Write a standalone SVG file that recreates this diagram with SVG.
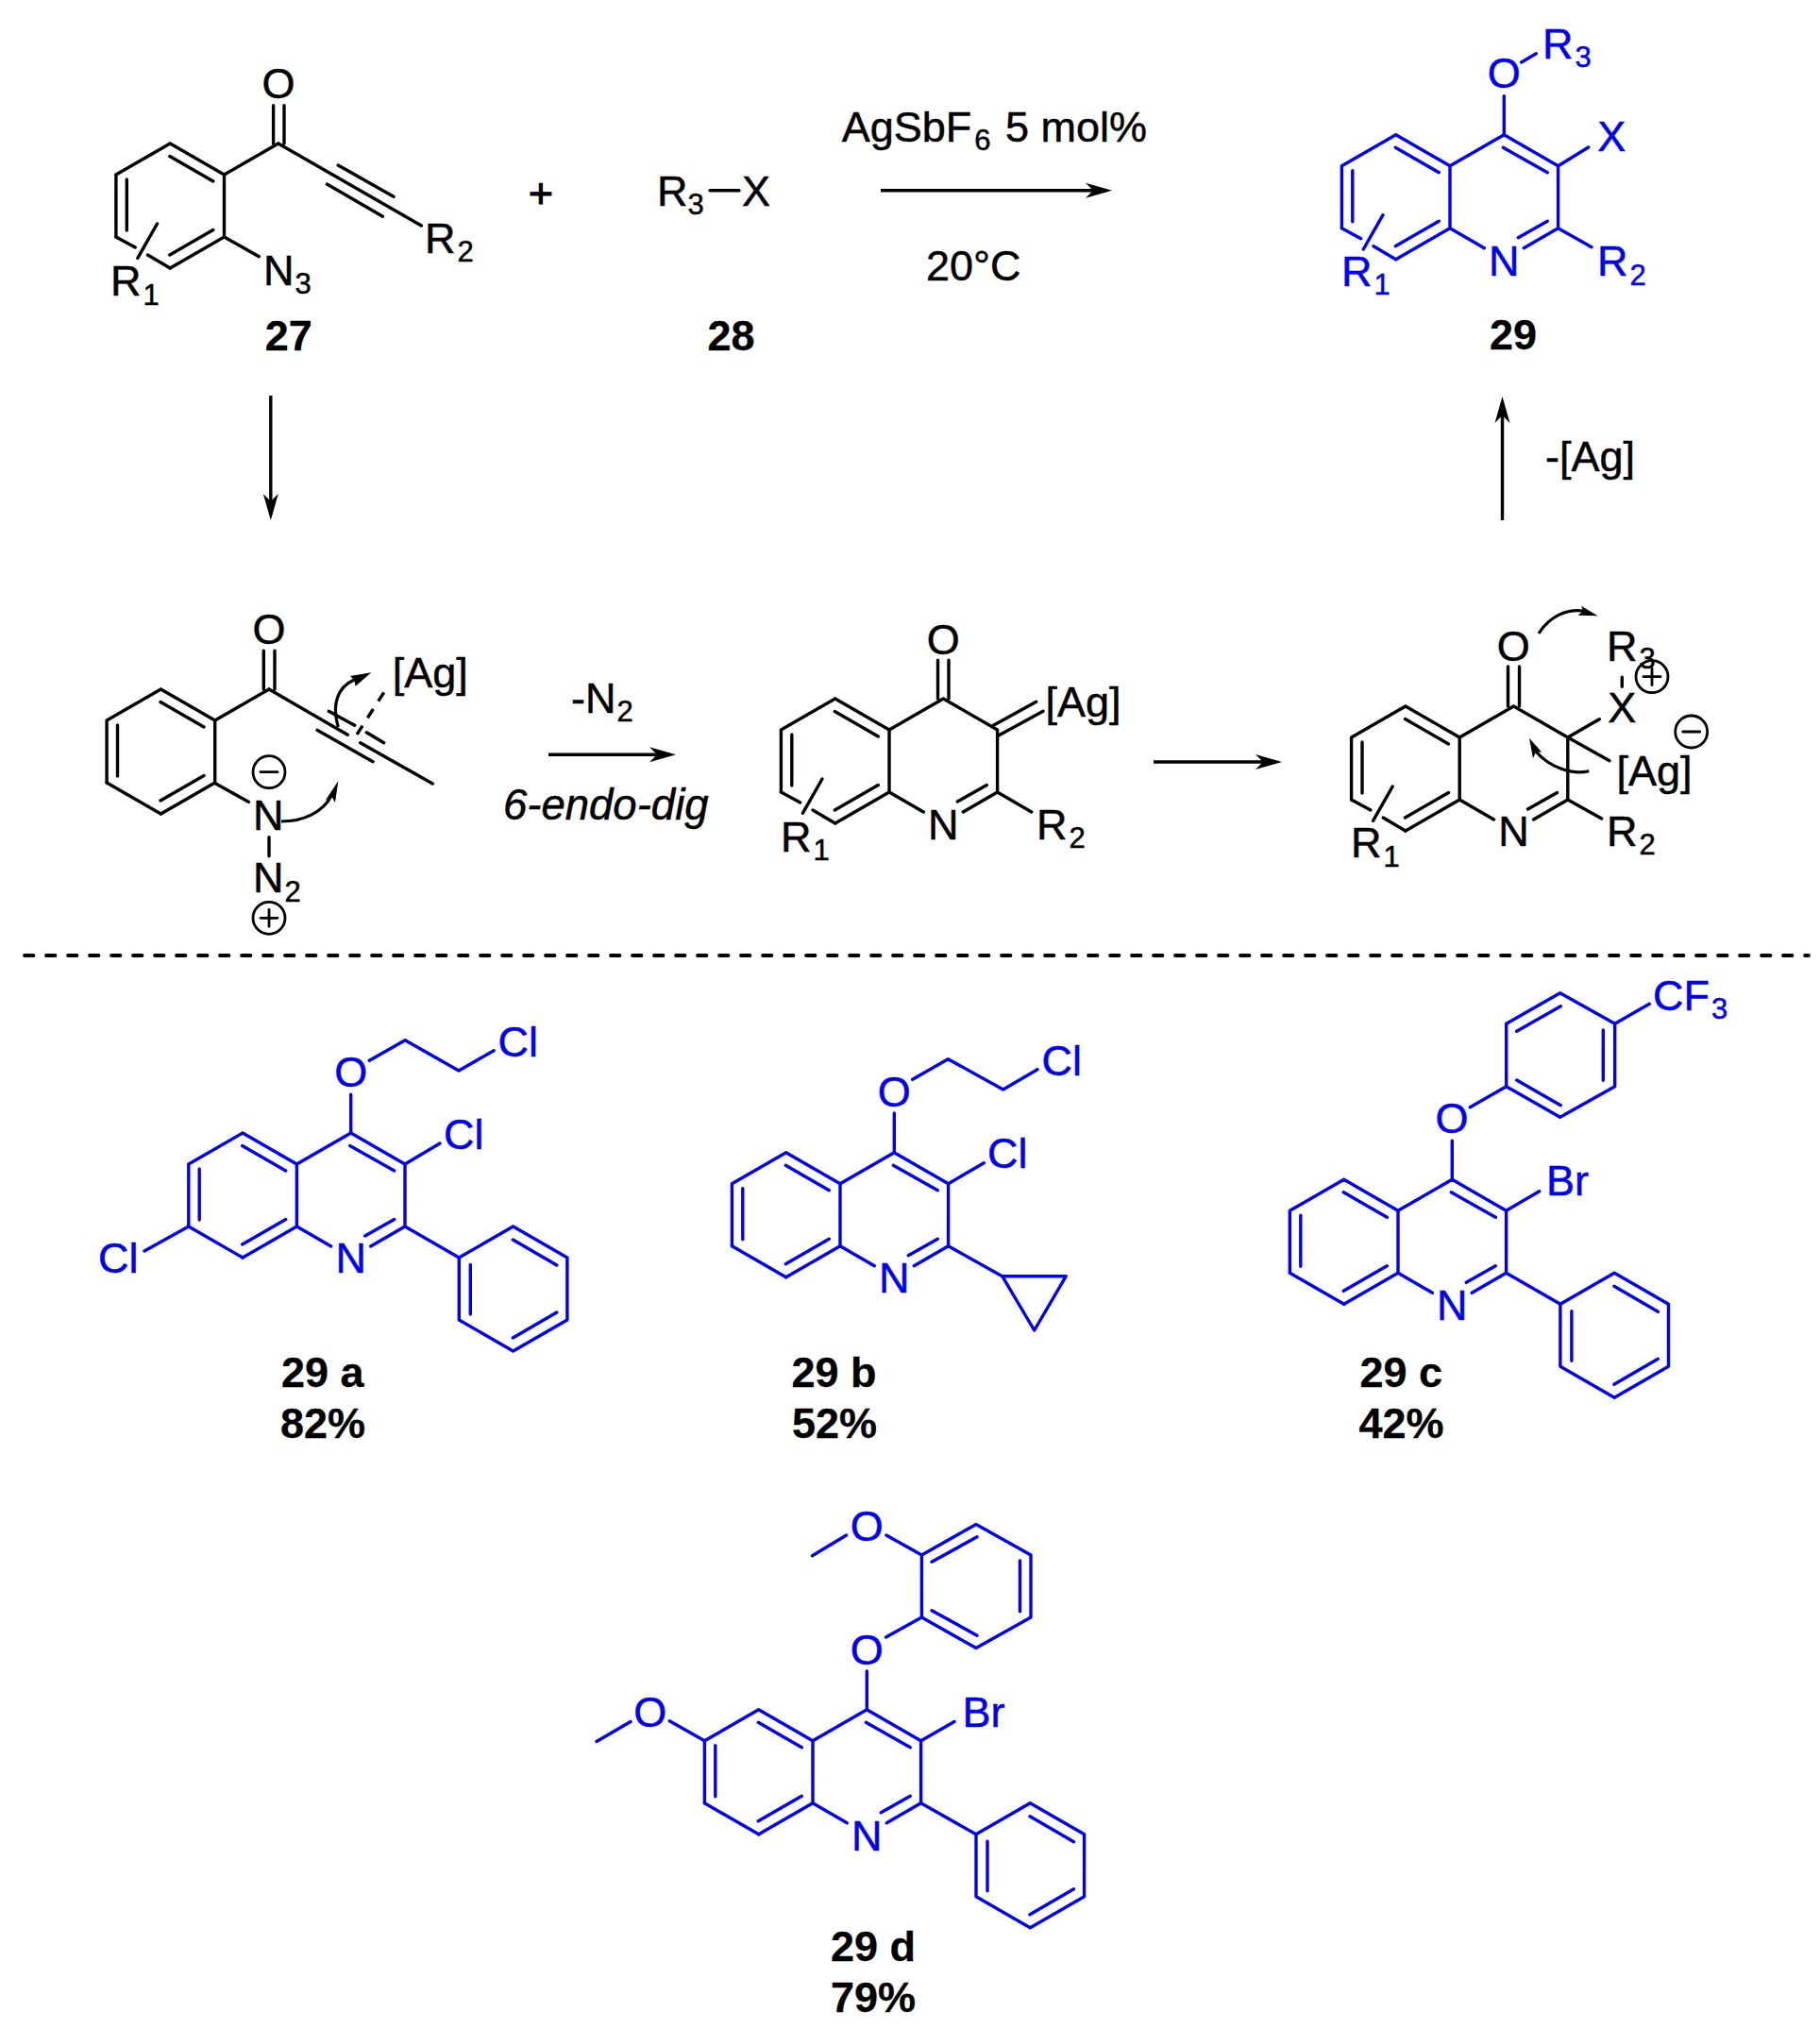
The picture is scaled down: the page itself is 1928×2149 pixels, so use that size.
<svg xmlns="http://www.w3.org/2000/svg" width="1928" height="2149" viewBox="0 0 1928 2149" stroke="#000">
<style>
text{font-family:"Liberation Sans",Arial,sans-serif;font-size:45px;fill:#000;stroke-width:.5}
.s{font-size:31px}
.b{font-weight:bold;font-size:45px;stroke-width:.3}
.i{font-style:italic;font-size:45.5px}
.c{text-anchor:middle}
path,line,circle{fill:none;stroke-width:3.4;stroke-linecap:round;stroke-linejoin:round}
.u{stroke:#0000f5}
.u text{fill:#0000f5}
.u text.lb{fill:#000;stroke:#000}
.h{fill:#000;stroke:none}
.ch{stroke-width:2.8}
.ar{stroke-width:3.4;stroke-linecap:butt;marker-end:url(#ah)}
.cv{stroke-width:3.2;stroke-linecap:butt}
.dash{stroke-width:3.8;stroke-dasharray:9.5 13.5}
.dd{stroke-dasharray:11 10;stroke-linecap:butt}
.pl{stroke-width:1}
</style>
<defs>
<marker id="ah" markerUnits="userSpaceOnUse" markerWidth="30" markerHeight="18" refX="22" refY="9" orient="auto"><path class="h" d="M0 1L28 9L0 17L8 9Z"/></marker>
<path id="benzo" d="M-114.6 0L-57.3 33V99L-114.6 132M-171.9 99V33L-114.6 0M-115 13.5L-69 40M-115 118L-69 91.5M-160.5 38V92"/>
<path id="de" d="M-114.6 132L-171.9 99"/>
<path id="r1" d="M-171.9 99L-151.6 110M-138.3 118L-114.6 132M-128.3 85L-149 121.3"/>
<path id="bg" d="M-57.3 33L0 0"/>
<path id="pyr" d="M-57.3 33L0 0L57.3 33V99L21 120M-57.3 99L-21 120M15 109L46 91.5"/>
<path id="gh" d="M-1 13.5L46 40"/>
<path id="ph" d="M0 0L57.3-33L114.6 0V66L57.3 99L0 66ZM57 -19L103.5 8M12 7.5V60M57 85L103.5 58"/>
<g id="plus"><circle class="ch" r="17"/><path class="ch" d="M-9 0H9M0-9V9"/></g>
<g id="minus"><circle class="ch" r="17"/><path class="ch" d="M-9 0H9"/></g>
</defs>

<g id="connectors">
<line class="ar" x1="933" y1="201.7" x2="1172" y2="201.7"/>
<line class="ar" x1="286.8" y1="419" x2="286.8" y2="545"/>
<line class="ar" x1="581" y1="799.3" x2="710" y2="799.3"/>
<line class="ar" x1="1222" y1="807" x2="1352" y2="807"/>
<line class="ar" x1="1591.5" y1="551" x2="1591.5" y2="426"/>
<line class="dash" x1="26" y1="1012" x2="1916" y2="1012"/>
<path class="cv" d="M358.3 770C351 745 358 728 375 720"/>
<path class="h" d="M393.3 712.3L371 716L375 720L376.7 726.7Z"/>
<path class="cv" d="M298 870C322 870 342 860 351 843"/>
<path class="h" d="M358.3 827.3L344.3 848.3L351 843L355 850Z"/>
<path class="cv" d="M1630 671C1642 652 1660 645 1677 647"/>
<path class="h" d="M1692.7 652.3L1675 641.7L1677 647L1671.7 651.7Z"/>
<path class="cv" d="M1683.3 816.7C1665 821 1642 813 1627 796"/>
<path class="h" d="M1620 781.7L1624 803.3L1627 796L1633.3 796.7Z"/>
</g>

<g id="compound-27">
<g transform="translate(294.8 152)"><use href="#benzo"/><use href="#r1"/><use href="#bg"/></g>
<path d="M289.6 111.7V152M301 111.7V152M294.8 152L446.4 239M358.2 175L417 208.3M346.4 195L405.4 229.3M237.5 251L274.3 271.7"/>
<text class="c" x="295" y="104">O</text>
<text x="450" y="268.3">R<tspan class="s" dx="2" dy="9">2</tspan></text>
<text x="279" y="301.7">N<tspan class="s" dx="1" dy="9">3</tspan></text>
<text x="117" y="313.3">R<tspan class="s" dx="2" dy="10">1</tspan></text>
<text class="b c" x="305.7" y="370.7">27</text>
</g>

<g id="plus-sign"><text class="c pl" x="573" y="220">+</text></g>

<g id="compound-28">
<line x1="752" y1="201.7" x2="783" y2="201.7"/>
<text x="696" y="218.3">R<tspan class="s" dy="9">3</tspan></text>
<text x="786" y="218.3">X</text>
<text class="b c" x="774.5" y="370.7">28</text>
</g>

<g id="conditions">
<text x="891.7" y="150">AgSbF<tspan class="s" dx="3" dy="9">6</tspan><tspan x="1065" dy="-9">5 mol%</tspan></text>
<text x="981" y="296.7">20°C</text>
<text x="605" y="755">-N<tspan class="s" dx="1" dy="9">2</tspan></text>
<text class="i" x="533" y="868.3">6-endo-dig</text>
<text x="1637" y="499">-[Ag]</text>
</g>

<g id="compound-29" class="u">
<g transform="translate(1593.3 142.7)"><use href="#benzo"/><use href="#r1"/><use href="#pyr"/><use href="#gh"/></g>
<path d="M1593.3 101.7V142.7M1611.7 66L1627.3 56.7M1650.6 175.7L1682.7 156M1650.6 241.7L1686 261.7"/>
<text class="c" x="1593.3" y="93.3">O</text>
<text x="1634" y="61.7">R<tspan class="s" dx="2" dy="9">3</tspan></text>
<text x="1692.3" y="160">X</text>
<text class="c" x="1593.3" y="291.7">N</text>
<text x="1692" y="291.7">R<tspan class="s" dx="2" dy="10">2</tspan></text>
<text x="1421" y="303.3">R<tspan class="s" dx="2" dy="9">1</tspan></text>
<text class="b c lb" x="1603" y="370">29</text>
</g>

<g id="intermediate-a">
<g transform="translate(285 730)"><use href="#benzo"/><use href="#de"/><use href="#bg"/></g>
<path d="M279.3 689.3V730M291 689.3V730M285 730L368.3 778.3M381.7 786.7L458.3 830M348.3 753.3L375.7 768.3M388.3 775.7L406.7 786.7M336 773.3L395 806.7M227.3 829.3L263.3 849.3M285 886.7V906.7"/>
<line class="dd" x1="406.7" y1="733.3" x2="376.7" y2="780"/>
<text class="c" x="285" y="681.7">O</text>
<text x="415.8" y="727.5">[Ag]</text>
<text x="268" y="879.3">N</text>
<text x="268" y="945">N<tspan class="s" dx="1" dy="10">2</tspan></text>
<use href="#minus" x="285" y="817.7"/>
<use href="#plus" x="285" y="972.3"/>
</g>

<g id="intermediate-b">
<g transform="translate(999.3 740)"><use href="#benzo"/><use href="#r1"/><use href="#pyr"/></g>
<path d="M993.5 699.3V740M1005 699.3V740M1052.3 768.3L1097.7 743.3M1057.3 779.3L1105 753.3M1056.6 839L1092.7 860"/>
<text class="c" x="999.3" y="692.7">O</text>
<text x="1107.5" y="758.5">[Ag]</text>
<text class="c" x="999.3" y="889.3">N</text>
<text x="827" y="901.7">R<tspan class="s" dx="2" dy="9">1</tspan></text>
<text x="1098" y="889.3">R<tspan class="s" dx="2" dy="9">2</tspan></text>
</g>

<g id="intermediate-c">
<g transform="translate(1603.5 748)"><use href="#benzo"/><use href="#r1"/><use href="#pyr"/></g>
<path d="M1597.5 706V748M1609.5 706V748M1660.8 781L1694.3 761.7M1660.8 781L1705 805.7M1660.8 847L1696.7 867M1718.3 717.3V727.3"/>
<text class="c" x="1603.3" y="700">O</text>
<text x="1702" y="700">R<tspan class="s" dx="2" dy="8">3</tspan></text>
<text x="1703.3" y="765">X</text>
<text x="1712.5" y="831.7">[Ag]</text>
<text class="c" x="1603.5" y="896">N</text>
<text x="1431" y="908.3">R<tspan class="s" dx="2" dy="10">1</tspan></text>
<text x="1702" y="896">R<tspan class="s" dx="2" dy="9">2</tspan></text>
<use href="#plus" x="1750" y="716.7"/>
<use href="#minus" x="1791.7" y="775"/>
</g>

<g id="compound-29a" class="u">
<g transform="translate(371.7 1200)"><use href="#benzo"/><use href="#de"/><use href="#pyr"/><use href="#gh"/></g>
<path d="M371.7 1159.3V1200M391.3 1123.3L429.2 1101.7L486 1134L523.2 1112.7M429 1233L466 1211M199.8 1299L153 1325M429 1299L486.3 1332"/>
<use href="#ph" x="486.3" y="1332"/>
<text class="c" x="371.7" y="1151">O</text>
<text x="527.5" y="1119">Cl</text>
<text x="470" y="1217.3">Cl</text>
<text x="104" y="1348.3">Cl</text>
<text class="c" x="371.7" y="1348.3">N</text>
<text class="b lb" x="298" y="1469">29 a</text>
<text class="b lb" x="297" y="1522.7">82%</text>
</g>

<g id="compound-29b" class="u">
<g transform="translate(947.3 1220.7)"><use href="#benzo"/><use href="#de"/><use href="#pyr"/><use href="#gh"/></g>
<path d="M947.3 1179V1220.7M966.7 1143.3L1004.3 1121.7L1062.7 1154L1099 1132.7M1004.6 1253.7L1042.3 1231.7M1004.6 1319.7L1061.7 1351.7H1129.3L1095.7 1409L1061.7 1351.7"/>
<text class="c" x="947.3" y="1171.7">O</text>
<text x="1103.5" y="1139.3">Cl</text>
<text x="1046" y="1237.3">Cl</text>
<text class="c" x="947.3" y="1369.3">N</text>
<text class="b lb" x="838.5" y="1469.3">29 b</text>
<text class="b lb" x="839" y="1522.7">52%</text>
</g>

<g id="compound-29c" class="u">
<g transform="translate(1538.3 1249.3)"><use href="#benzo"/><use href="#de"/><use href="#pyr"/><use href="#gh"/></g>
<path d="M1538.3 1208.3V1249.3M1557.3 1172.7L1595.7 1150.7V1084.3L1652.7 1051.7L1710.7 1084.3V1150.7L1652.7 1183.3L1595.7 1150.7M1606.7 1092.3L1653.3 1065.7M1698.3 1091V1144.3M1606.7 1144L1653.3 1170.7M1710.7 1084.3L1747.3 1063.3M1595.6 1282.3L1630.7 1261.7M1595.6 1348.3L1652.9 1381.3"/>
<use href="#ph" x="1652.9" y="1381.3"/>
<text class="c" x="1538" y="1200">O</text>
<text x="1751" y="1070">CF<tspan class="s" dx="2" dy="9">3</tspan></text>
<text x="1638" y="1266">Br</text>
<text class="c" x="1538.3" y="1398.3">N</text>
<text class="b lb" x="1440.5" y="1469">29 c</text>
<text class="b lb" x="1439.5" y="1522.7">42%</text>
</g>

<g id="compound-29d" class="u">
<g transform="translate(918.3 1810.8)"><use href="#benzo"/><use href="#de"/><use href="#pyr"/><use href="#gh"/></g>
<path d="M918.3 1770V1810.8M938.6 1734L976.4 1713V1647L1034 1614.4L1092 1647V1713L1034 1745.6L976.4 1713M987 1654.3L1035 1627.8M1080.5 1653V1706.8M987 1705.7L1035 1732.2M896.6 1626L860.5 1647.8M938.9 1626L976.4 1647M709.3 1822.8L746.4 1843.8M668 1823.5L632 1844.5M975.6 1843.8L1011 1823.5M975.6 1909.8L1033.9 1942.8"/>
<use href="#ph" x="1034" y="1942.8"/>
<text class="c" x="918.3" y="1763">O</text>
<text class="c" x="918.3" y="1632">O</text>
<text class="c" x="688.7" y="1829">O</text>
<text x="1019.5" y="1829">Br</text>
<text class="c" x="918.3" y="1960">N</text>
<text class="b lb" x="880" y="2077.4">29 d</text>
<text class="b lb" x="880" y="2130.7">79%</text>
</g>
</svg>
